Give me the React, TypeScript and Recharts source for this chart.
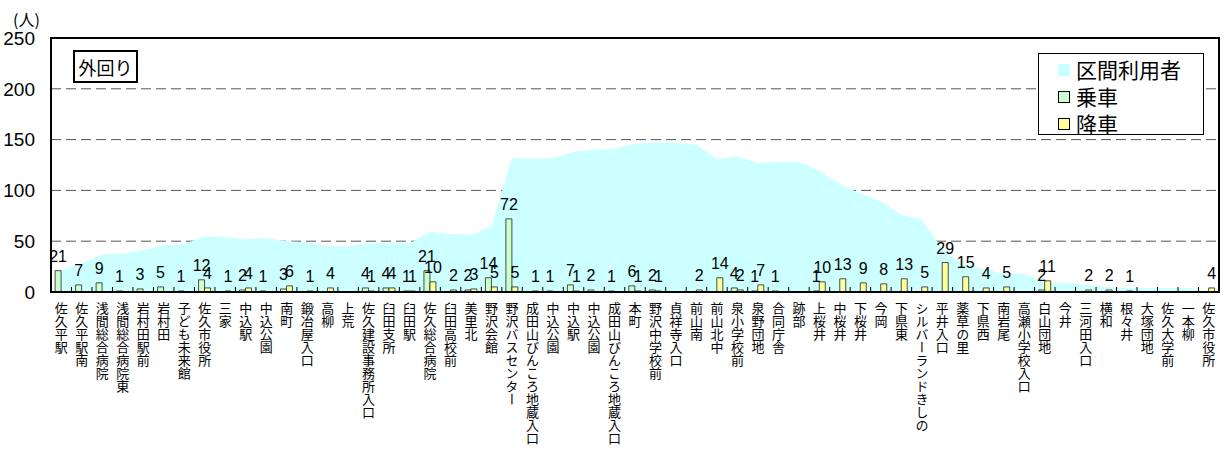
import {
  ComposedChart,
  Area,
  Bar,
  XAxis,
  YAxis,
  CartesianGrid,
  Legend,
  LabelList,
  ReferenceArea,
} from "recharts";

const stops = [
  "佐久平駅", "佐久平駅南", "浅間総合病院", "浅間総合病院東", "岩村田駅前", "岩村田",
  "子ども未来館", "佐久市役所", "三家", "中込駅", "中込公園", "南町", "鍛冶屋入口",
  "高柳", "上荒", "佐久建設事務所入口", "臼田支所", "臼田駅", "佐久総合病院",
  "臼田高校前", "美里北", "野沢会館", "野沢バスセンター", "成田山びんころ地蔵入口",
  "中込公園", "中込駅", "中込公園", "成田山びんころ地蔵入口", "本町", "野沢中学校前",
  "貞祥寺入口", "前山南", "前山北中", "泉小学校前", "泉野団地", "合同庁舎", "跡部",
  "上桜井", "中桜井", "下桜井", "今岡", "下県東", "シルバーランドきしの", "平井入口",
  "薬草の里", "下県西", "南岩尾", "高瀬小学校入口", "白山団地", "今井", "三河田入口",
  "横和", "根々井", "大塚団地", "佐久大学前", "一本柳", "佐久市役所",
];

// 乗車
const boarding = [
  21, 7, 9, 1, 3, 5, 1, 12, 0, 2, 1, 3, 0, 0, 0, 4, 4, 1, 21, 0, 2, 14, 72, 0, 1, 7, 2,
  1, 6, 2, 0, 0, 0, 4, 1, 1, 0, 1, 0, 0, 0, 0, 0, 0, 0, 0, 0, 0, 2, 0, 0, 0, 0, 0, 0, 0, 0,
];

// 降車
const alighting = [
  0, 0, 0, 0, 0, 0, 0, 4, 1, 4, 0, 6, 1, 4, 0, 1, 4, 1, 10, 2, 3, 5, 5, 1, 0, 1, 0, 0, 1,
  1, 0, 2, 14, 2, 7, 0, 0, 10, 13, 9, 8, 13, 5, 29, 15, 4, 5, 0, 11, 0, 2, 2, 1, 0, 0, 0, 4,
];

// 区間利用者
const riders = [
  21, 28, 37, 38, 41, 46, 47, 55, 54, 52, 53, 50, 49, 45, 45, 48, 48, 48, 59, 57, 56, 65,
  132, 131, 132, 138, 140, 141, 146, 147, 147, 145, 131, 133, 127, 128, 128, 119, 106, 97,
  89, 76, 71, 42, 27, 23, 18, 18, 9, 9, 7, 5, 4, 4, 4, 4, 0,
];

const yTicks = [0, 50, 100, 150, 200, 250];

const data = stops.map((name, i) => ({
  idx: i,
  name,
  riders: riders[i],
  boarding: boarding[i],
  alighting: alighting[i],
}));

const W = 1228;
const H = 462;
const LEFT = 51;
const RIGHT = 9;
const TOP = 38;
const BOTTOM = 170;
const band = (W - LEFT - RIGHT) / stops.length;
const numFont = "'Liberation Sans', Arial, sans-serif";
const jpFont = "'Noto Sans CJK JP', sans-serif";

function StopTick(props: any) {
  const { x, y, payload } = props;
  const axisY = y - 10;
  return (
    <g>
      <line x1={x - band / 2} x2={x - band / 2} y1={axisY - 5} y2={axisY} stroke="#000" />
      <text
        x={x}
        y={y}
        textAnchor="start"
        fontSize={13}
        fontFamily={jpFont}
        fill="#000"
        style={{ writingMode: "vertical-rl" }}
      >
        {stops[payload.value]}
      </text>
    </g>
  );
}

function LegendBox() {
  const rows = [
    { label: "区間利用者", color: "#CCFFFF", border: "none" },
    { label: "乗車", color: "#CCFFCC", border: "1px solid #000" },
    { label: "降車", color: "#FFFF99", border: "1px solid #000" },
  ];
  return (
    <div
      style={{
        width: 166,
        height: 82,
        border: "1px solid #000",
        background: "#fff",
        boxSizing: "border-box",
        paddingTop: 2,
        fontFamily: jpFont,
      }}
    >
      {rows.map((r) => (
        <div key={r.label} style={{ display: "flex", alignItems: "center", height: 27 }}>
          <span
            style={{
              display: "inline-block",
              width: 12,
              height: 12,
              marginLeft: 19,
              marginRight: 6,
              background: r.color,
              border: r.border,
              boxSizing: "border-box",
            }}
          />
          <span style={{ fontSize: 21, lineHeight: "27px" }}>{r.label}</span>
        </div>
      ))}
    </div>
  );
}

const hideZero = (v: any) => (Number(v) === 0 ? "" : v);

export default function App() {
  return (
    <div style={{ position: "absolute", left: 0, top: 0, width: W, height: H, background: "#fff" }}>
      <ComposedChart
        width={W}
        height={H}
        data={data}
        margin={{ top: TOP, right: RIGHT, bottom: 0, left: 0 }}
        barCategoryGap="20%"
        barGap={0}
      >
        <CartesianGrid vertical={false} strokeDasharray="10 5" stroke="#555" />
        <XAxis
          dataKey="idx"
          type="category"
          interval={0}
          height={BOTTOM}
          tick={<StopTick />}
          tickLine={false}
          tickSize={10}
          tickMargin={0}
          axisLine={{ stroke: "#000", strokeWidth: 2 }}
        />
        <YAxis
          domain={[0, 250]}
          ticks={yTicks}
          width={LEFT}
          tickLine={false}
          tickSize={8}
          tickMargin={8}
          axisLine={{ stroke: "#000", strokeWidth: 2 }}
          tick={{ fill: "#000", fontSize: 19, fontFamily: numFont }}
        />
        <Area
          dataKey="riders"
          name="区間利用者"
          type="linear"
          fill="#CCFFFF"
          fillOpacity={1}
          stroke="none"
          dot={false}
          activeDot={false}
          isAnimationActive={false}
        />
        <Bar dataKey="boarding" name="乗車" fill="#CCFFCC" stroke="#222" strokeWidth={0.8} isAnimationActive={false}>
          <LabelList
            dataKey="boarding"
            position="top"
            offset={9}
            formatter={hideZero}
            fill="#000"
            fontSize={16}
            fontFamily={numFont}
          />
        </Bar>
        <Bar dataKey="alighting" name="降車" fill="#FFFF99" stroke="#222" strokeWidth={0.8} isAnimationActive={false}>
          <LabelList
            dataKey="alighting"
            position="top"
            offset={9}
            formatter={hideZero}
            fill="#000"
            fontSize={16}
            fontFamily={numFont}
          />
        </Bar>
        <ReferenceArea y1={0} y2={250} fill="none" stroke="#000" strokeWidth={2} ifOverflow="visible" />
        <Legend
          layout="vertical"
          align="center"
          verticalAlign="middle"
          content={<LegendBox />}
          wrapperStyle={{ position: "absolute", left: 1038, top: 53, width: 166, height: 82 }}
        />
      </ComposedChart>
      <div
        style={{
          position: "absolute",
          left: 13,
          top: 9,
          fontSize: 16,
          fontFamily: jpFont,
          lineHeight: "20px",
        }}
      >
        (人)
      </div>
      <div
        style={{
          position: "absolute",
          left: 73,
          top: 50,
          width: 65,
          height: 33,
          border: "2.5px solid #000",
          boxSizing: "border-box",
          background: "#fff",
          fontSize: 18,
          fontFamily: jpFont,
          display: "flex",
          alignItems: "center",
          justifyContent: "center",
        }}
      >
        外回り
      </div>
    </div>
  );
}
